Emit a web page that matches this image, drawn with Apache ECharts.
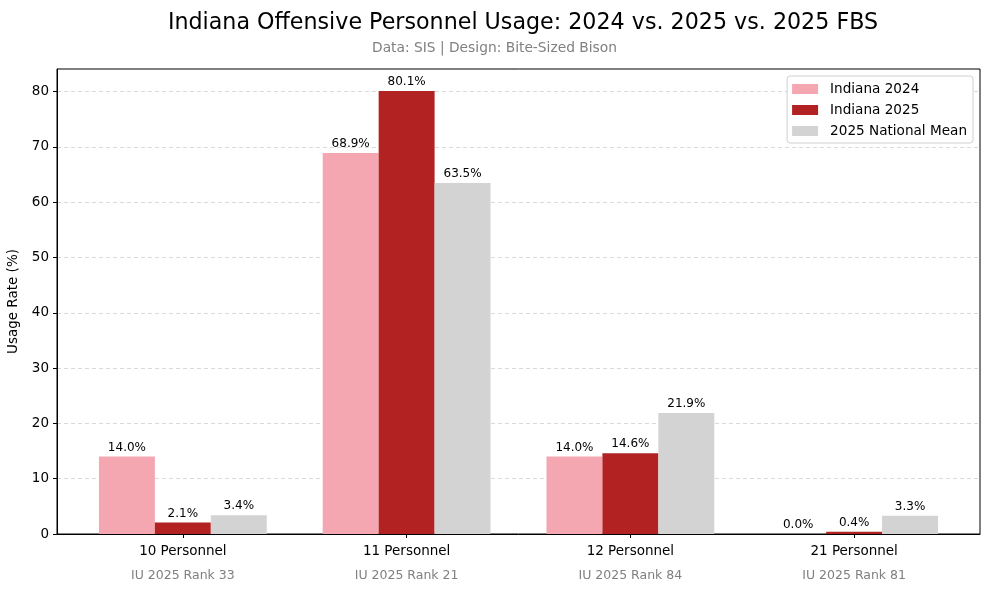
<!DOCTYPE html>
<html>
<head>
<meta charset="utf-8">
<script src="https://cdn.jsdelivr.net/npm/echarts@6/dist/echarts.min.js"></script>
<style>html,body{margin:0;padding:0;background:#fff;}#c{width:989px;height:590px;}</style>
</head>
<body>
<div id="c"></div>
<script>
var categories = ['10 Personnel', '11 Personnel', '12 Personnel', '21 Personnel'];
var ranks = ['IU 2025 Rank 33', 'IU 2025 Rank 21', 'IU 2025 Rank 84', 'IU 2025 Rank 81'];
var indiana2024 = [14.0, 68.9, 14.0, 0.0];
var indiana2025 = [2.1, 80.1, 14.6, 0.4];
var nationalMean = [3.4, 63.5, 21.9, 3.3];
var seriesNames = ['Indiana 2024', 'Indiana 2025', '2025 National Mean'];
var yTicks = [0, 10, 20, 30, 40, 50, 60, 70, 80];

var FONT = 'DejaVu Sans';
var colors = ['#F4A7B0', '#B22222', '#D3D3D3'];
var idx = categories.map(function (_, i) { return i; });

function mk(name, vals, color) {
  return {
    name: name,
    type: 'bar',
    barWidth: '25%',
    barGap: '0%',
    itemStyle: { color: color },
    data: vals.map(function (v, i) { return [i, v]; }),
    label: {
      show: true,
      position: 'top',
      distance: 3,
      fontFamily: FONT,
      fontSize: 12,
      color: '#000',
      formatter: function (p) { return p.value[1].toFixed(1) + '%'; }
    }
  };
}

var chart = echarts.init(document.getElementById('c'), null, { renderer: 'canvas' });
chart.setOption({
  animation: false,
  backgroundColor: '#fff',
  title: [{
    text: 'Indiana Offensive Personnel Usage: 2024 vs. 2025 vs. 2025 FBS',
    left: 518, top: 7, textAlign: 'center',
    textStyle: { fontFamily: FONT, fontSize: 22.2, fontWeight: 'normal', color: '#000' }
  }, {
    text: 'Data: SIS | Design: Bite-Sized Bison',
    left: 'center', top: 36,
    textStyle: { fontFamily: FONT, fontSize: 13.8, fontWeight: 'normal', color: '#808080' }
  }],
  legend: {
    orient: 'vertical',
    right: 16, top: 76,
    padding: [6, 6, 5, 5],
    itemWidth: 26, itemHeight: 10, itemGap: 7,
    backgroundColor: '#fff',
    borderColor: '#d0d0d0', borderWidth: 1, borderRadius: 3,
    icon: 'rect',
    textStyle: { fontFamily: FONT, fontSize: 13.6, color: '#000', padding: [0, 0, 0, 7] },
    data: seriesNames
  },
  grid: {
    left: 57, right: 9, top: 69, bottom: 56,
    outerBoundsMode: 'none', containLabel: false,
    show: true, borderColor: '#000', borderWidth: 1, backgroundColor: 'transparent'
  },
  xAxis: {
    type: 'value',
    min: -0.5625, max: 3.5625,
    axisLine: { show: true, onZero: false, lineStyle: { color: '#000' } },
    axisTick: { show: true, customValues: idx, length: 4, lineStyle: { color: '#000' } },
    splitLine: { show: false },
    axisLabel: {
      customValues: idx,
      margin: 8,
      formatter: function (v) {
        var i = Math.round(v);
        return '{a|' + categories[i] + '}\n{b|' + ranks[i] + '}';
      },
      rich: {
        a: { fontFamily: FONT, fontSize: 13.5, color: '#000', lineHeight: 18 },
        b: { fontFamily: FONT, fontSize: 12.5, color: '#808080', lineHeight: 22, verticalAlign: 'bottom' }
      }
    }
  },
  yAxis: {
    type: 'value',
    min: 0, max: 84.1, interval: 10,
    name: 'Usage Rate (%)',
    nameLocation: 'middle',
    nameGap: 34,
    nameTextStyle: { fontFamily: FONT, fontSize: 13.5, color: '#000' },
    axisLine: { show: true, onZero: false, lineStyle: { color: '#000' } },
    axisTick: { show: true, customValues: yTicks, length: 4, lineStyle: { color: '#000' } },
    axisLabel: { customValues: yTicks, fontFamily: FONT, fontSize: 13.5, color: '#000', margin: 8 },
    splitLine: { show: true, lineStyle: { color: '#cfcfcf', type: [4, 3], width: 0.8 } }
  },
  series: [
    mk(seriesNames[0], indiana2024, colors[0]),
    mk(seriesNames[1], indiana2025, colors[1]),
    mk(seriesNames[2], nationalMean, colors[2])
  ]
});
</script>
</body>
</html>
